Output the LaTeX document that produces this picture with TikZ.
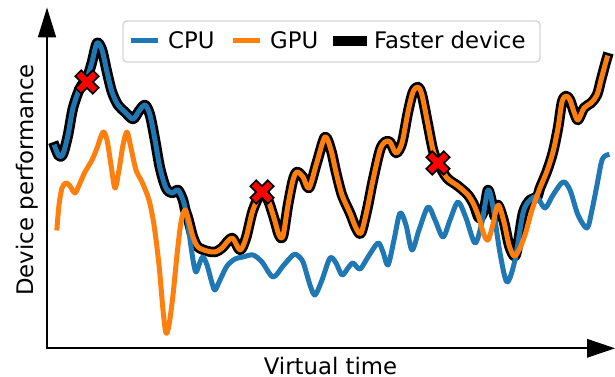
\documentclass[tikz,border=0pt]{standalone}
\usepackage{fontspec}
\setmainfont{DejaVu Sans}
\definecolor{mplblue}{HTML}{1F77B4}
\definecolor{mplorange}{HTML}{FF7F0E}
\definecolor{legedge}{HTML}{D4D4D4}
\tikzset{
  axisline/.style={line width=2pt, black},
  arrowhead/.style={fill=black, draw=none},
  cpuline/.style={line width=5pt, mplblue, line join=round, line cap=rect},
  gpuline/.style={line width=5pt, mplorange, line join=round, line cap=rect},
  fastline/.style={line width=10.5pt, black, line join=round, line cap=rect},
  xmk/.style={fill=red, draw=black, line width=1.7pt, line join=miter},
  lbl/.style={font=\fontsize{22.8}{27}\selectfont, inner sep=0pt},
  legbox/.style={draw=legedge, fill=white, line width=1.4pt, rounded corners=4pt}
}
\newcommand\myxmark[1]{%
  \draw[xmk, shift={#1}, rotate=45] (-4.2,-12.4)--(-4.2,-4.2)--(-12.4,-4.2)--(-12.4,4.2)--(-4.2,4.2)--(-4.2,12.4)--(4.2,12.4)--(4.2,4.2)--(12.4,4.2)--(12.4,-4.2)--(4.2,-4.2)--(4.2,-12.4)--cycle;}
\begin{document}
\begin{tikzpicture}[x=1pt,y=-1pt]
\useasboundingbox (0,0) rectangle (615,377);
% axes
\draw[axisline] (47,349) -- (47,30);
\fill[arrowhead] (47,7.5) -- (37.8,37.3) -- (56.2,37.3) -- cycle;
\draw[axisline] (46,348.3) -- (592,348.3);
\fill[arrowhead] (615,348.3) -- (587,338.8) -- (587,357.8) -- cycle;
\node[lbl, rotate=90, anchor=base] (ylab) at (33,180) {Device performance};
\node[lbl, anchor=base] (xlab) at (330.5,374) {Virtual time};
% faster device (max)
\draw[fastline] plot[smooth, tension=0.5] coordinates {
(55,147) (59,156) (63,154) (68,135) (73,108) (80,88) (87,78) (92,62) (97,43) (102,50) (107,72) (112,92) (118,105) (125,112) (133,119) (139,111) (145,105) (150,115) (155,140) (160,168) (166,188) (172,193) (178,190) (183,200) (185,209)
(188,218) (193,237) (198,247) (207,251) (215,252) (222,248) (232,238) (240,250) (246,238) (253,210) (262,192) (268,200) (274,218) (279,235) (283,236) (288,205) (293,180) (297,172) (303,177) (309,188) (317,162) (325,137) (331,150) (336,172) (342,195) (350,213) (356,228) (361,233) (367,210) (373,180) (380,150) (385,142) (390,142) (396,153) (402,143) (408,112) (413,92) (418,87) (422,95) (428,125) (433,150) (438,163) (447,178) (458,186) (468,195) (474,205) (479,218)
(484,210) (488,190) (492,203) (495,217)
(498,205) (504,222) (509,245) (514,256) (517,250)
(523,213) (530,200) (537,197)
(540,188) (547,171) (553,152) (558,128) (562,102) (566,96) (570,100) (574,112) (578,120) (584,108) (591,103) (597,95) (601,80) (605,65) (607,58)};
% CPU
\draw[cpuline] plot[smooth, tension=0.5] coordinates {
(55,147) (59,156) (63,154) (68,135) (73,108) (80,88) (87,78) (92,62) (97,43) (102,50) (107,72) (112,92) (118,105) (125,112) (133,119) (139,111) (145,105) (150,115) (155,140) (160,168) (166,188) (172,193) (178,190) (183,200) (186,212) (189,232) (193,260) (196,272) (200,262) (203,257) (207,265) (212,283) (215,290) (220,280) (227,266) (235,259) (243,257) (253,255) (262,262) (273,277) (283,266) (293,255) (297,255) (303,262) (310,285) (315,295) (322,280) (330,258) (336,263) (342,275) (348,268) (353,263) (360,269) (368,257) (378,243) (383,252) (388,265) (394,240) (400,213) (406,225) (412,250) (419,230) (428,207) (435,220) (443,237) (450,220) (458,202) (466,218) (475,243) (482,222) (488,190) (493,207) (500,253) (507,282) (515,260) (523,213) (530,200) (537,197) (545,208) (553,195) (563,182) (570,190) (578,215) (587,228) (592,210) (597,185) (602,160) (607,155)};
% GPU
\draw[gpuline] plot[smooth, tension=0.5] coordinates {
(57,228) (59,205) (62,188) (66,183) (70,186) (75,193) (80,183) (85,172) (92,160) (97,148) (103,132) (107,140) (111,165) (115,188) (119,170) (123,145) (127,132) (131,148) (136,170) (142,182) (149,200) (154,225) (159,265) (163,310) (166,333) (169,325) (173,295) (177,255) (181,222) (185,210) (188,218) (193,237) (198,247) (207,251) (215,252) (222,248) (232,238) (240,250) (246,238) (253,210) (262,192) (268,200) (274,218) (279,235) (283,236) (288,205) (293,180) (297,172) (303,177) (309,188) (317,162) (325,137) (331,150) (336,172) (342,195) (350,213) (356,228) (361,233) (367,210) (373,180) (380,150) (385,142) (390,142) (396,153) (402,143) (408,112) (413,92) (418,87) (422,95) (428,125) (433,150) (438,163) (447,178) (458,186) (468,195) (474,205) (479,218) (484,235) (488,240) (492,228) (498,205) (504,222) (509,245) (514,256) (519,250) (525,235) (532,210) (540,188) (547,171) (553,152) (558,128) (562,102) (566,96) (570,100) (574,112) (578,120) (584,108) (591,103) (597,95) (601,80) (605,65) (607,58)};
% switch markers
\myxmark{(87,82)}
\myxmark{(262,192)}
\myxmark{(438,163)}
% legend
\draw[legbox] (123,21) rectangle (540,62);
\coordinate (l1a) at (133,41); \coordinate (l1b) at (155,41);
\coordinate (l2a) at (235,41); \coordinate (l2b) at (257,41);
\coordinate (l3a) at (338,41); \coordinate (l3b) at (362,41);
\draw[cpuline] (l1a) -- (l1b);
\draw[gpuline] (l2a) -- (l2b);
\draw[fastline] (l3a) -- (l3b);
\node[lbl, anchor=base west] (tcpu) at (168,48.5) {CPU};
\node[lbl, anchor=base west] (tgpu) at (270,48.5) {GPU};
\node[lbl, anchor=base west] (tfast) at (374,48.5) {Faster device};
\end{tikzpicture}
\end{document}
